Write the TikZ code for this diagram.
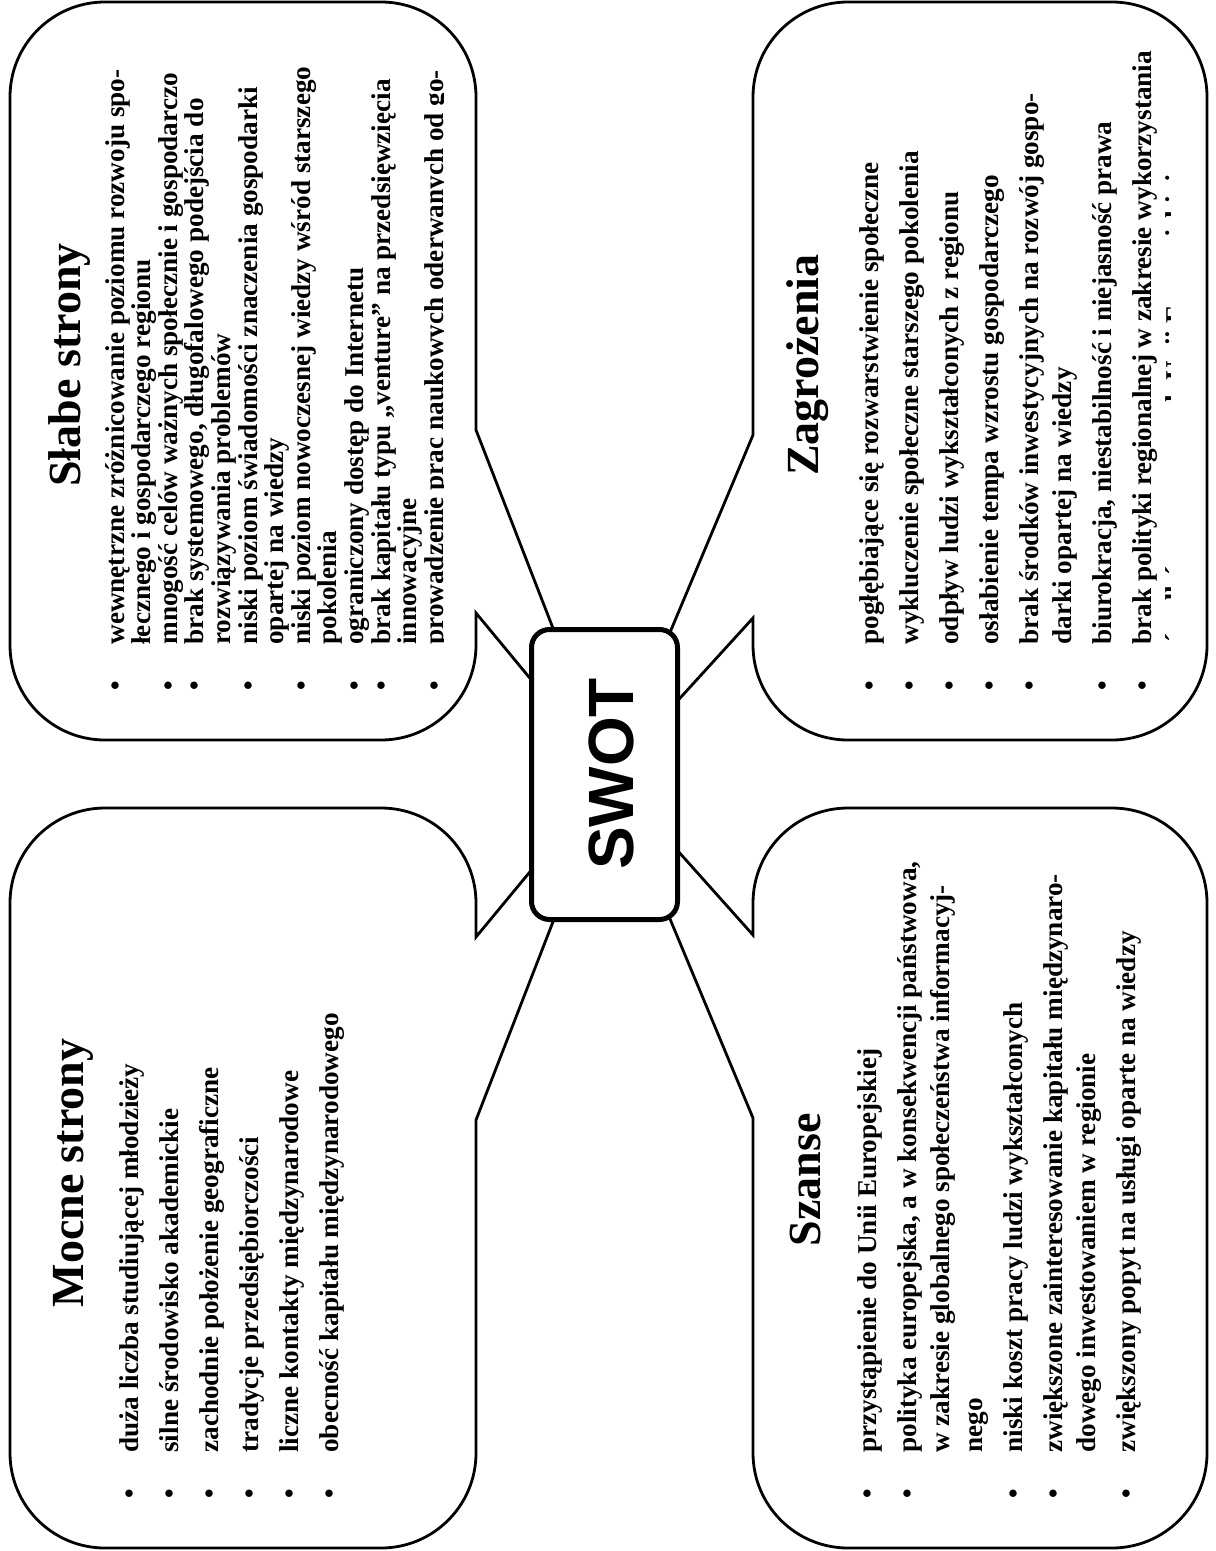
\documentclass[tikz,border=0pt]{standalone}
\usepackage{fontspec}
\setmainfont{Liberation Serif}
\newfontfamily\swotfont{Liberation Sans}
\usepackage{tikz}

\newcommand{\bul}[1]{\par\noindent\llap{\makebox[23pt][l]{\textbullet}}#1}

\tikzset{
  callout/.style={draw, line width=1.4pt},
  boxtitle/.style={rotate=90, anchor=center, inner sep=0pt, font=\fontsize{23}{27}\selectfont\bfseries},
  boxlist/.style={rotate=90, anchor=base west, inner sep=0pt, font=\bfseries},
  swotbox/.style={draw, line width=2.5pt, fill=white, rounded corners=9pt, minimum width=73pt, minimum height=145pt, inner sep=0pt},
}

\begin{document}
\begin{tikzpicture}[x=0.5pt,y=0.5pt,yscale=-1,xscale=1]
\useasboundingbox (0,0) rectangle (1215,1551);

%Shape: Callout (Slabe strony)
\draw [callout] (105,2) -- (381,2) .. controls (433.5,2) and (476,44.5) .. (476,97) -- (476,430) -- (610,775) -- (476,613) -- (476,645) .. controls (476,697.5) and (433.5,740) .. (381,740) -- (105,740) .. controls (52.5,740) and (10,697.5) .. (10,645) -- (10,97) .. controls (10,44.5) and (52.5,2) .. (105,2) -- cycle ;
%Shape: Callout (Zagrozenia)
\draw [callout] (848,2) -- (1112,2) .. controls (1164.5,2) and (1207,44.5) .. (1207,97) -- (1207,645) .. controls (1207,697.5) and (1164.5,740) .. (1112,740) -- (848,740) .. controls (795.5,740) and (753,697.5) .. (753,645) -- (753,618) -- (610,775) -- (753,435) -- (753,97) .. controls (753,44.5) and (795.5,2) .. (848,2) -- cycle ;
%Shape: Callout (Mocne strony)
\draw [callout] (105,808) -- (381,808) .. controls (433.5,808) and (476,850.5) .. (476,903) -- (476,937) -- (610,775) -- (476,1120) -- (476,1453) .. controls (476,1505.5) and (433.5,1548) .. (381,1548) -- (105,1548) .. controls (52.5,1548) and (10,1505.5) .. (10,1453) -- (10,903) .. controls (10,850.5) and (52.5,808) .. (105,808) -- cycle ;
%Shape: Callout (Szanse)
\draw [callout] (848,808) -- (1112,808) .. controls (1164.5,808) and (1207,850.5) .. (1207,903) -- (1207,1453) .. controls (1207,1505.5) and (1164.5,1548) .. (1112,1548) -- (848,1548) .. controls (795.5,1548) and (753,1505.5) .. (753,1453) -- (753,1118) -- (610,775) -- (753,935) -- (753,903) .. controls (753,850.5) and (795.5,808) .. (848,808) -- cycle ;

% Text Node
\draw (70,365) node (slabe) [boxtitle] {Słabe strony};
\begin{scope}
\clip (14,6) rectangle (443,736);
% Text Node
\draw (124,645) node (slabeList) [boxlist] {\begin{minipage}[t]{330pt}\fontsize{13.6}{13.3}\selectfont\lineskiplimit=-20pt
\bul{wewnętrzne zróżnicowanie poziomu rozwoju spo-\\łecznego i gospodarczego regionu}
\bul{mnogość celów ważnych społecznie i gospodarczo}
\bul{brak systemowego, długofalowego podejścia do\\rozwiązywania problemów}
\bul{niski poziom świadomości znaczenia gospodarki\\opartej na wiedzy}
\bul{niski poziom nowoczesnej wiedzy wśród starszego\\pokolenia}
\bul{ograniczony dostęp do Internetu}
\bul{brak kapitału typu „venture” na przedsięwzięcia\\innowacyjne}
\bul{prowadzenie prac naukowych oderwanych od go-}
\end{minipage}};
\end{scope}

% Text Node
\draw (808,365) node (zagr) [boxtitle] {Zagrożenia};
\begin{scope}
\clip (757,6) rectangle (1170,736);
% Text Node
\draw (878,645) node (zagrList) [boxlist] {\begin{minipage}[t]{330pt}\fontsize{13.6}{16.5}\selectfont\lineskiplimit=-20pt\setlength{\parskip}{3.5pt}
\bul{pogłębiające się rozwarstwienie społeczne}
\bul{wykluczenie społeczne starszego pokolenia}
\bul{odpływ ludzi wykształconych z regionu}
\bul{osłabienie tempa wzrostu gospodarczego}
\bul{brak środków inwestycyjnych na rozwój gospo-\\darki opartej na wiedzy}
\bul{biurokracja, niestabilność i niejasność prawa}
\bul{brak polityki regionalnej w zakresie wykorzystania\\środków pomocowych Unii Europejskiej}
\end{minipage}};
\end{scope}

% Text Node
\draw (73,1173) node (mocne) [boxtitle] {Mocne strony};
% Text Node
\draw (138,1453) node (mocneList) [boxlist] {\begin{minipage}[t]{330pt}\fontsize{13.6}{16.5}\selectfont\lineskiplimit=-20pt\setlength{\parskip}{3.5pt}
\bul{duża liczba studiującej młodzieży}
\bul{silne środowisko akademickie}
\bul{zachodnie położenie geograficzne}
\bul{tradycje przedsiębiorczości}
\bul{liczne kontakty międzynarodowe}
\bul{obecność kapitału międzynarodowego}
\end{minipage}};

% Text Node
\draw (805,1180) node (szanse) [boxtitle] {Szanse};
% Text Node
\draw (876,1453) node (szanseList) [boxlist] {\begin{minipage}[t]{330pt}\fontsize{13.6}{16.5}\selectfont\lineskiplimit=-20pt\setlength{\parskip}{3.5pt}
\bul{przystąpienie do Unii Europejskiej}
\bul{polityka europejska, a w konsekwencji państwowa,\\w zakresie globalnego społeczeństwa informacyj-\\nego}
\bul{niski koszt pracy ludzi wykształconych}
\bul{zwiększone zainteresowanie kapitału międzynaro-\\dowego inwestowaniem w regionie}
\bul{zwiększony popyt na usługi oparte na wiedzy}
\end{minipage}};

%Rounded Rect (SWOT)
\draw (604.5,774.5) node (swot) [swotbox] {};
% Text Node
\draw (611,774) node (swotLabel) [rotate=90, inner sep=0pt, font=\swotfont\bfseries\fontsize{32}{36}\selectfont] {SWOT};

\end{tikzpicture}
\end{document}
